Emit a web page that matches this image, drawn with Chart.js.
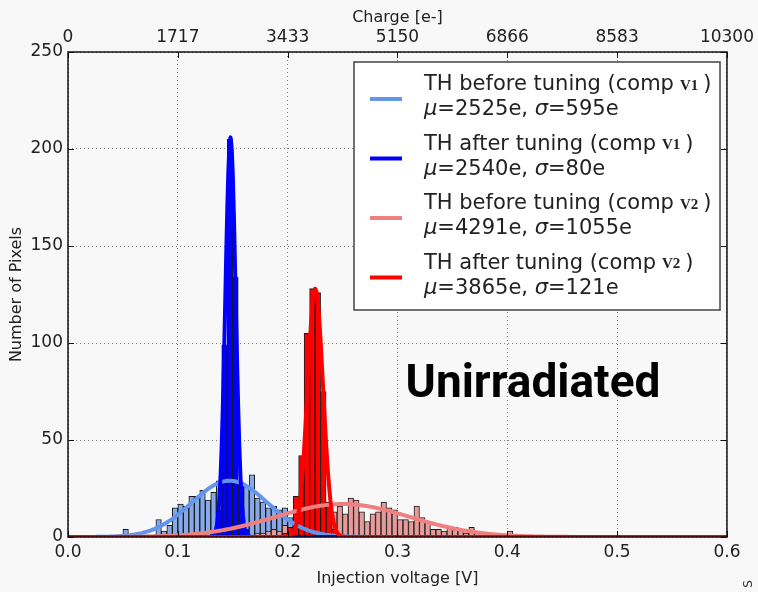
<!DOCTYPE html>
<html>
<head>
<meta charset="utf-8">
<title>Threshold tuning</title>
<script src="https://cdn.jsdelivr.net/npm/chart.js@4.4.1/dist/chart.umd.min.js"></script>
<style>
  html, body { margin:0; padding:0; background:#f8f8f8; }
  #wrap { position:relative; width:758px; height:592px; }
</style>
</head>
<body>
<div id="wrap"><canvas id="thChart" width="758" height="592"></canvas></div>
<script>
// ---- histogram data (bins of 5 mV, first value = centre of first bin) ----
const BIN_W = 0.005;

const beforeV1Start = 0.0525;
const beforeV1Counts = [4, 0, 0, 1, 1, 1, 9, 3, 6, 15, 17, 16, 21, 21, 24, 19, 23, 29, 27, 30,
                        29, 27, 26, 32, 20, 18, 15, 16, 14, 15, 10, 6, 4, 2, 1, 1];

const afterV1Start = 0.1325;
const afterV1Counts = [1, 14, 99, 205, 134, 28, 4];

const beforeV2Start = 0.1575;
const beforeV2Counts = [1, 0, 1, 2, 2, 3, 4, 3, 6, 5, 7, 9, 10, 12, 11, 14, 13, 13, 16, 12,
                        20, 19, 13, 8, 12, 13, 18, 15, 14, 9, 9, 8, 16, 10, 8, 4, 4, 3, 5, 5,
                        4, 2, 5, 2, 0, 1, 0, 0, 0, 3];

const afterV2Start = 0.1975;
const afterV2Counts = [2, 5, 21, 42, 105, 128, 126, 75, 18, 4, 1];

// ---- gaussian fits (electrons) ----
const seriesNames = ['TH before tuning (comp', 'TH after tuning (comp', 'TH before tuning (comp', 'TH after tuning (comp'];
const compTags = ['V1', 'V1', 'V2', 'V2'];
const fitMuE = [2525, 2540, 4291, 3865];
const fitSigmaE = [595, 80, 1055, 121];
const fitPeak = [29, 206, 17, 128];

// ---- axes ----
const E_PER_V = 10300 / 0.6;
const voltTicks = [0, 0.1, 0.2, 0.3, 0.4, 0.5, 0.6];
const chargeTicks = [0, 1717, 3433, 5150, 6866, 8583, 10300];
const countTicks = [0, 50, 100, 150, 200, 250];

const lineColors = ['#6495ed', '#0000ff', '#f08080', '#ff0000'];
const barColors = ['#86a9e8', '#0000ff', '#e79a9a', '#ff0000'];
const TXT = '#222';
const FONT = '"DejaVu Sans", sans-serif';

function binPoints(start, counts) {
  return counts.map((c, i) => ({ x: +(start + i * BIN_W).toFixed(4), y: c }));
}

function fitPoints(k) {
  const mu = fitMuE[k] / E_PER_V, sd = fitSigmaE[k] / E_PER_V;
  const pts = [];
  for (let i = 0; i <= 600; i++) {
    const v = i / 1000;
    pts.push({ x: v, y: fitPeak[k] * Math.exp(-0.5 * ((v - mu) / sd) ** 2) });
  }
  return pts;
}

const hists = [
  binPoints(beforeV1Start, beforeV1Counts),
  binPoints(afterV1Start, afterV1Counts),
  binPoints(beforeV2Start, beforeV2Counts),
  binPoints(afterV2Start, afterV2Counts)
];

const datasets = [];
hists.forEach((pts, k) => {
  datasets.push({
    type: 'bar', data: pts, xAxisID: 'x', yAxisID: 'y',
    backgroundColor: barColors[k], borderColor: '#1a1a1a', borderWidth: 1,
    barPercentage: 1, categoryPercentage: 1, grouped: false, order: 8 - k
  });
});
for (let k = 0; k < 4; k++) {
  datasets.push({
    type: 'line', data: fitPoints(k), xAxisID: 'x', yAxisID: 'y',
    borderColor: lineColors[k], borderWidth: 4, borderJoinStyle: 'round',
    pointRadius: 0, tension: 0, fill: false, order: 4 - k
  });
}

// matplotlib-like frame with inward ticks
const framePlugin = {
  id: 'frame',
  afterDraw(chart) {
    const { ctx, chartArea: a, scales } = chart;
    ctx.save();
    ctx.strokeStyle = '#111';
    ctx.lineWidth = 1;
    ctx.beginPath();
    voltTicks.forEach(v => {
      const px = Math.round(scales.x.getPixelForValue(v)) + 0.5;
      ctx.moveTo(px, a.bottom); ctx.lineTo(px, a.bottom - 6);
      ctx.moveTo(px, a.top); ctx.lineTo(px, a.top + 6);
    });
    countTicks.forEach(v => {
      const py = Math.round(scales.y.getPixelForValue(v)) + 0.5;
      ctx.moveTo(a.left, py); ctx.lineTo(a.left + 6, py);
      ctx.moveTo(a.right, py); ctx.lineTo(a.right - 6, py);
    });
    ctx.stroke();
    ctx.lineWidth = 1.5;
    ctx.strokeRect(a.left, a.top, a.right - a.left, a.bottom - a.top);
    ctx.restore();
  }
};

// legend with mixed fonts (mu / sigma italic, comparator tag in bold serif)
const legendBox = { x: 354, y: 62, w: 366, h: 248 };
const legendPlugin = {
  id: 'fitLegend',
  afterDraw(chart) {
    const ctx = chart.ctx;
    ctx.save();
    ctx.fillStyle = '#fff';
    ctx.fillRect(legendBox.x, legendBox.y, legendBox.w, legendBox.h);
    ctx.strokeStyle = '#444';
    ctx.lineWidth = 1.5;
    ctx.strokeRect(legendBox.x, legendBox.y, legendBox.w, legendBox.h);
    ctx.textBaseline = 'middle';
    seriesNames.forEach((name, i) => {
      const y0 = legendBox.y + 23 + i * 59.5;
      ctx.strokeStyle = lineColors[i];
      ctx.lineWidth = 4;
      ctx.beginPath();
      ctx.moveTo(370, y0 + 14); ctx.lineTo(402, y0 + 14);
      ctx.stroke();

      ctx.fillStyle = TXT;
      ctx.font = '21px ' + FONT;
      ctx.fillText(name, 424, y0);
      let x = 424 + ctx.measureText(name).width + 6;
      ctx.font = 'bold 15px "Liberation Serif", serif';
      ctx.fillText(compTags[i], x, y0 + 1);
      x += ctx.measureText(compTags[i]).width + 5;
      ctx.font = '21px ' + FONT;
      ctx.fillText(')', x, y0);

      const parts = [['\u03bc', true], ['=' + fitMuE[i] + 'e, ', false], ['\u03c3', true], ['=' + fitSigmaE[i] + 'e', false]];
      x = 424;
      parts.forEach(([t, it]) => {
        ctx.font = (it ? 'italic ' : '') + '21px ' + FONT;
        ctx.fillText(t, x, y0 + 25);
        x += ctx.measureText(t).width;
      });
    });
    ctx.restore();
  }
};

const notePlugin = {
  id: 'note',
  afterDraw(chart) {
    const ctx = chart.ctx;
    ctx.save();
    ctx.fillStyle = '#000';
    ctx.font = 'bold 46px Roboto, sans-serif';
    ctx.textAlign = 'center';
    ctx.textBaseline = 'alphabetic';
    ctx.fillText('Unirradiated', 533, 397);
    ctx.translate(749, 584);
    ctx.rotate(-Math.PI / 2);
    ctx.font = '12px ' + FONT;
    ctx.fillStyle = '#333';
    ctx.textAlign = 'center';
    ctx.textBaseline = 'middle';
    ctx.fillText('S', 0, 0);
    ctx.restore();
  }
};

const tickFont = { family: FONT, size: 17 };
const titleFont = { family: FONT, size: 16 };
const gridStyle = { color: 'rgba(0,0,0,0.5)', lineWidth: 1, drawTicks: false, offset: false };

new Chart(document.getElementById('thChart'), {
  type: 'bar',
  data: { datasets },
  plugins: [framePlugin, legendPlugin, notePlugin],
  options: {
    responsive: false,
    devicePixelRatio: 1,
    animation: false,
    layout: { padding: { left: 0, right: 27, top: 0, bottom: 0 } },
    plugins: { legend: { display: false }, tooltip: { enabled: false } },
    scales: {
      x: {
        type: 'linear', position: 'bottom', min: 0, max: 0.6, offset: false,
        afterBuildTicks: s => { s.ticks = voltTicks.map(v => ({ value: v })); },
        ticks: { callback: v => v.toFixed(1), font: tickFont, color: TXT, padding: 5, maxRotation: 0, autoSkip: false },
        grid: gridStyle,
        border: { display: false, dash: [1, 3] },
        title: { display: true, text: 'Injection voltage [V]', font: titleFont, color: TXT, padding: { top: 0, bottom: 4 } },
        afterFit: s => { s.height = 55; }
      },
      x2: {
        type: 'linear', position: 'top', min: 0, max: 10300, offset: false,
        afterBuildTicks: s => { s.ticks = chargeTicks.map(v => ({ value: v })); },
        ticks: { callback: v => String(v), font: tickFont, color: TXT, padding: 4, maxRotation: 0, autoSkip: false },
        grid: { display: false, drawTicks: false, offset: false },
        border: { display: false },
        title: { display: true, text: 'Charge [e-]', font: titleFont, color: TXT, padding: { top: 8, bottom: 0 } },
        afterFit: s => { s.height = 52; }
      },
      y: {
        type: 'linear', min: 0, max: 250,
        afterBuildTicks: s => { s.ticks = countTicks.map(v => ({ value: v })); },
        ticks: { font: tickFont, color: TXT, padding: 5 },
        grid: gridStyle,
        border: { display: false, dash: [1, 3] },
        title: { display: true, text: 'Number of Pixels', font: titleFont, color: TXT, padding: { top: 7, bottom: 0 } },
        afterFit: s => { s.width = 68; }
      }
    }
  }
});
</script>
</body>
</html>
